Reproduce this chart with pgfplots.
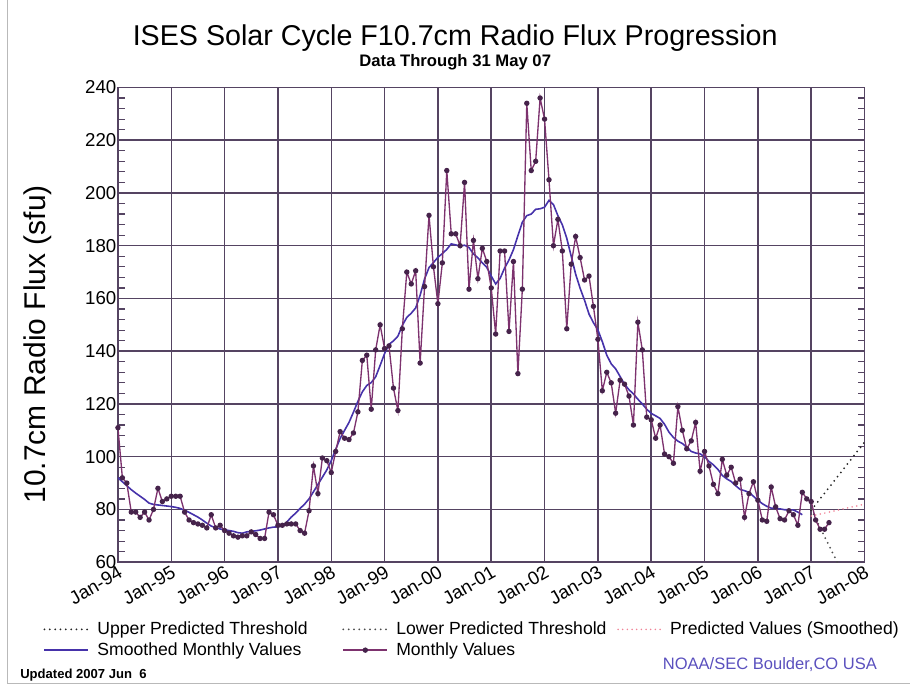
\documentclass[border=0pt]{standalone}
\usepackage{pgfplots}
\pgfplotsset{compat=1.18}
\usepackage{pgfplotstable}
\usepackage{fontspec}
\setmainfont{Liberation Sans}
\definecolor{gridc}{RGB}{85,68,98}
\definecolor{monc}{RGB}{125,50,110}
\definecolor{markc}{RGB}{70,35,75}
\definecolor{smoc}{RGB}{70,50,170}
\definecolor{pinkc}{RGB}{240,130,150}
\definecolor{noaac}{RGB}{90,80,190}

\pgfplotstableread{
m v
0 111
1 92
2 90
3 79
4 79
5 77
6 79
7 76
8 80
9 88
10 83
11 84
12 85
13 85
14 85
15 79
16 76
17 75
18 74.5
19 74
20 73
21 78
22 73
23 74
24 72
25 71
26 70
27 69.5
28 70
29 70
30 71.5
31 70.5
32 69
33 69
34 79
35 78
36 74
37 74
38 74.5
39 74.5
40 74.5
41 72
42 71
43 79.5
44 96.5
45 86
46 99.5
47 98.5
48 94
49 102
50 109.5
51 107
52 106.5
53 109
54 117
55 136.5
56 138.5
57 118
58 140.5
59 150
60 141
61 142
62 126
63 117.5
64 148.5
65 170
66 165.5
67 170.5
68 135.5
69 164.5
70 191.5
71 172
72 158
73 173.5
74 208.5
75 184.5
76 184.5
77 180
78 204
79 163.5
80 182
81 167.5
82 179
83 174
84 164
85 146.5
86 178
87 178
88 147.5
89 174
90 131.5
91 163.5
92 234
93 208.5
94 212
95 236
96 228
97 205
98 180
99 190
100 178
101 148.5
102 173
103 183.5
104 175.5
105 167
106 168.5
107 157
108 144.5
109 125
110 132
111 128
112 116.5
113 129
114 127.5
115 123
116 112
117 151
118 140.5
119 115
120 114
121 107
122 112
123 101
124 100
125 97.5
126 119
127 110
128 103
129 106
130 113
131 94.5
132 102
133 96.5
134 89.5
135 86
136 99
137 93
138 96
139 90
140 91.5
141 77
142 86
143 90.5
144 83.5
145 76
146 75.5
147 88.5
148 81
149 76.5
150 76
151 79.5
152 78
153 74
154 86.5
155 84
156 83
157 76
158 72.5
159 72.5
160 75
}\monthly

\pgfplotstableread{
m s
0 92
1 90.5
2 89
3 87.5
4 86.2
5 85
6 83.8
7 82.4
8 81.9
9 81.7
10 81.5
11 81.3
12 81.1
13 80.8
14 80.4
15 79.7
16 78.9
17 78.0
18 77.1
19 76.0
20 74.8
21 73.7
22 73.1
23 72.6
24 72.3
25 72.0
26 71.7
27 71.2
28 71.0
29 71.5
30 71.7
31 71.9
32 72.2
33 72.6
34 73.0
35 73.3
36 73.4
37 73.7
38 75.2
39 77.1
40 78.6
41 80.4
42 82.0
43 84.0
44 86.7
45 89.5
46 92.2
47 95.0
48 98.5
49 102.8
50 106.9
51 110.0
52 113.0
53 116.9
54 121.0
55 124.6
56 127.0
57 128.1
58 130.3
59 134.6
60 139.1
61 142.6
62 143.9
63 145.7
64 149.8
65 152.8
66 154.4
67 156.4
68 161.2
69 167.4
70 171.7
71 173.6
72 175.6
73 177.0
74 178.6
75 180.7
76 180.3
77 179.8
78 180.2
79 179.3
80 176.9
81 175.4
82 173.5
83 171.8
84 168.5
85 165.5
86 167.6
87 171.5
88 174.6
89 178.5
90 183.8
91 188.9
92 191.4
93 192.0
94 193.8
95 194.0
96 194.6
97 197.2
98 195.6
99 191.4
100 187.9
101 182.8
102 176.0
103 169.2
104 163.9
105 159.3
106 154.1
107 150.8
108 148.1
109 143.6
110 138.5
111 135.2
112 133.3
113 130.4
114 127.4
115 125.4
116 123.8
117 121.8
118 120.0
119 118.0
120 116.4
121 115.5
122 114.5
123 112.3
124 109.3
125 107.3
126 105.9
127 105.0
128 103.6
129 102.0
130 101.4
131 101.1
132 100.0
133 98.2
134 96.9
135 95.2
136 92.9
137 91.6
138 90.6
139 89.0
140 87.6
141 87.1
142 86.5
143 85.0
144 83.5
145 82.2
146 81.2
147 80.5
148 80.4
149 80.2
150 79.9
151 79.9
152 79.8
153 79.0
154 78.0
}\smoothed

\begin{document}
\begin{tikzpicture}
\path (0pt,0pt) rectangle (682.5pt,516pt);
\draw[gray!55, line width=0.75pt] (6pt,516pt) -- (6pt,3.75pt) -- (682.5pt,3.75pt);
\begin{axis}[
  at={(88.5pt,94.5pt)}, anchor=south west,
  scale only axis, width=560.25pt, height=356.25pt,
  xmin=1994, xmax=2008, ymin=60, ymax=240,
  xtick={1994,1995,...,2008},
  xticklabels={Jan-94,Jan-95,Jan-96,Jan-97,Jan-98,Jan-99,Jan-00,Jan-01,Jan-02,Jan-03,Jan-04,Jan-05,Jan-06,Jan-07,Jan-08},
  ytick={60,80,...,240},
  minor y tick num=4,
  grid=major,
  major grid style={gridc, line width=1.1pt},
  axis line style={gridc, line width=1.1pt},
  tick style={gridc, line width=0.9pt},
  major tick length=5.25pt, minor tick length=5.25pt,
  tick align=inside,
  xtick style={draw=none},
  ytick pos=both,
  yticklabel pos=left,
  /pgf/number format/assume math mode=true,
  yticklabel style={inner sep=1pt, font=\fontsize{14}{16}\selectfont},
  xticklabel style={rotate=30, anchor=north east, inner sep=1.5pt, font=\fontsize{14}{16}\selectfont},
  ylabel={10.7cm Radio Flux (sfu)},
  ylabel style={font=\fontsize{22.5}{26}\selectfont, at={(axis description cs:-0.107,0.459)}, anchor=center},
  legend columns=3,
  legend cell align=left,
  legend style={at={(axis description cs:-0.0997,-0.126)}, anchor=north west, draw=none, fill=none,
    inner sep=0pt, outer sep=0pt, row sep=4.5pt, column sep=0pt,
    font=\fontsize{13.2}{15.5}\selectfont, nodes={inner sep=0pt}},
  legend image code/.code={\draw[#1, mark repeat=2, mark phase=2] plot coordinates {(0pt,0pt) (16.5pt,0pt) (33pt,0pt)};},
]
\addplot[black!85, line width=1.5pt, line cap=round, dash pattern=on 0pt off 4pt] coordinates {(2007.0,79.7) (2008,105.5)};
\addlegendentry{\makebox[189.75pt][l]{\hspace{6pt}Upper Predicted Threshold}}
\addplot[black!70, line width=1.5pt, line cap=round, dash pattern=on 0pt off 4pt] coordinates {(2007.0,80) (2007.5,59.5)};
\addlegendentry{\makebox[171.75pt][l]{\hspace{6pt}Lower Predicted Threshold}}
\addplot[pinkc, line width=1.3pt, line cap=round, dash pattern=on 0pt off 3.5pt] coordinates {(2007.0,77.5) (2008,82)};
\addlegendentry{\hspace{5.5pt}Predicted Values (Smoothed)}
\addplot[smoc, line width=1.2pt, no marks] table[x expr=1994+\thisrow{m}/12, y=s] {\smoothed};
\addlegendentry{\makebox[189.75pt][l]{\hspace{6pt}Smoothed Monthly Values}}
\addplot[monc, line width=1pt, mark=*, mark size=1.5pt, mark options={fill=markc, draw=markc}] table[x expr=1994+\thisrow{m}/12, y=v] {\monthly};
\addlegendentry{\makebox[171.75pt][l]{\hspace{6pt}Monthly Values}}
\end{axis}
\node[font=\fontsize{21.5}{25}\selectfont] at (341.6pt,487.5pt) {ISES Solar Cycle F10.7cm Radio Flux Progression};
\node[font=\bfseries\fontsize{12.5}{14}\selectfont] at (341.6pt,469.5pt) {Data Through 31 May 07};
\node[anchor=west, font=\bfseries\fontsize{9.8}{12}\selectfont, inner sep=0pt] at (15pt,9.75pt) {Updated 2007 Jun\ \ 6};
\node[anchor=west, text=noaac, font=\fontsize{12.4}{14}\selectfont, inner sep=0pt] at (497.25pt,18pt) {NOAA/SEC Boulder,CO USA};
\end{tikzpicture}
\end{document}
